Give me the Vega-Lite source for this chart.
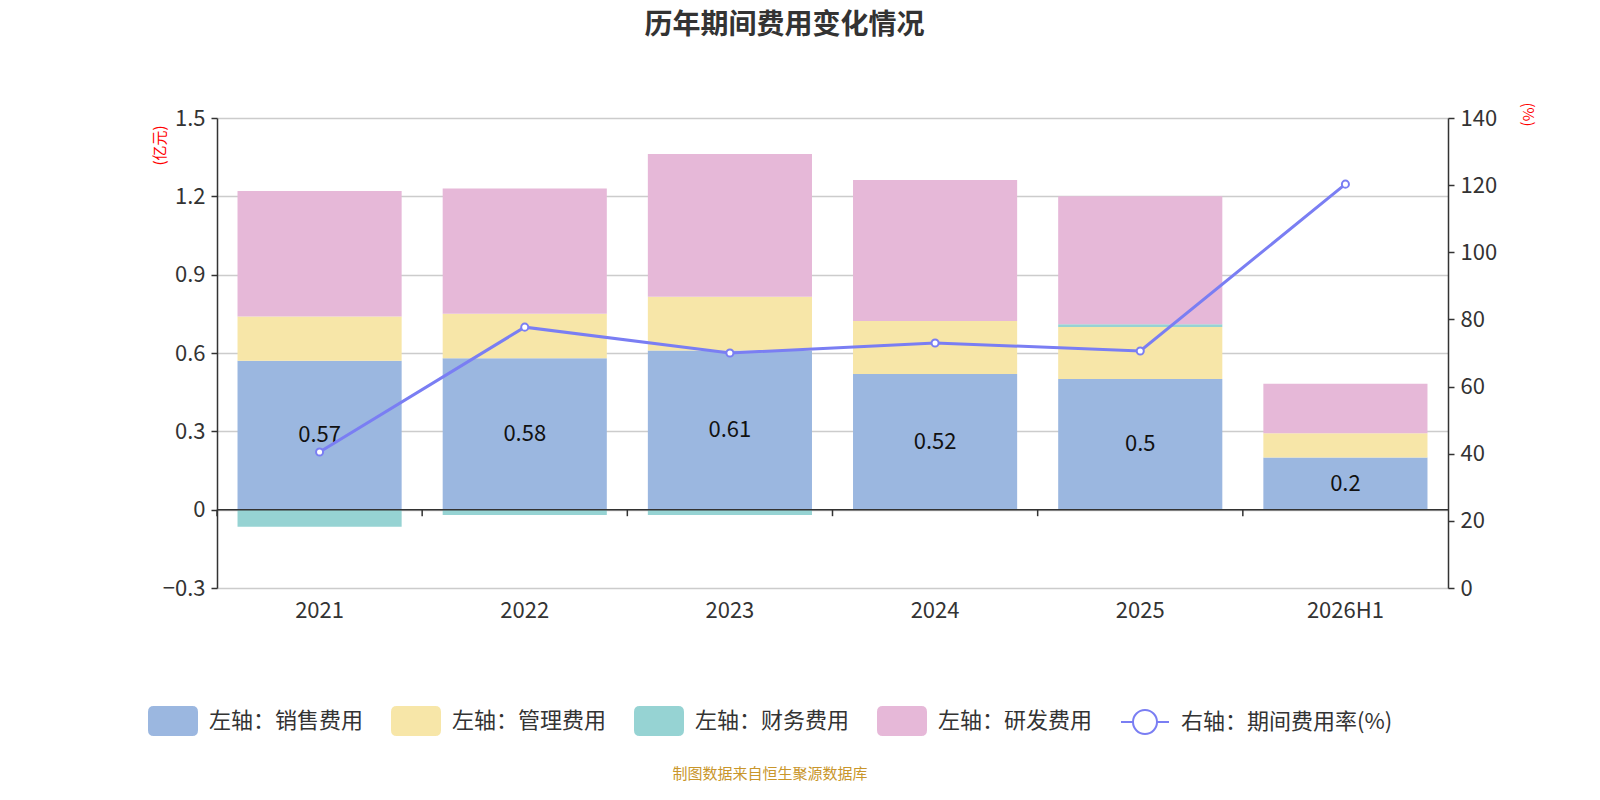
{
  "$schema": "https://vega.github.io/schema/vega-lite/v6.json",
  "width": 1231,
  "height": 470,
  "autosize": {"type": "none"},
  "padding": {"left": 217, "top": 118, "right": 152, "bottom": 212},
  "background": "white",
  "config": {
    "font": "Noto Sans CJK SC",
    "view": {"stroke": null},
    "axisX": {"title": null, "domain": false, "ticks": false, "labelAngle": 0, "labelFontSize": 22, "labelColor": "#333333", "labelPadding": 12, "grid": false}
  },
  "title": {
    "text": "历年期间费用变化情况",
    "fontSize": 28,
    "fontWeight": "bold",
    "color": "#333333",
    "anchor": "middle",
    "offset": 62,
    "dx": -48
  },
  "datasets": {
    "cost": [
      {"year": "2021", "series": "左轴：销售费用", "value": 0.57},
      {"year": "2021", "series": "左轴：管理费用", "value": 0.17},
      {"year": "2021", "series": "左轴：财务费用", "value": -0.065},
      {"year": "2021", "series": "左轴：研发费用", "value": 0.48},
      {"year": "2022", "series": "左轴：销售费用", "value": 0.58},
      {"year": "2022", "series": "左轴：管理费用", "value": 0.17},
      {"year": "2022", "series": "左轴：财务费用", "value": -0.02},
      {"year": "2022", "series": "左轴：研发费用", "value": 0.48},
      {"year": "2023", "series": "左轴：销售费用", "value": 0.61},
      {"year": "2023", "series": "左轴：管理费用", "value": 0.205},
      {"year": "2023", "series": "左轴：财务费用", "value": -0.02},
      {"year": "2023", "series": "左轴：研发费用", "value": 0.547},
      {"year": "2024", "series": "左轴：销售费用", "value": 0.52},
      {"year": "2024", "series": "左轴：管理费用", "value": 0.203},
      {"year": "2024", "series": "左轴：财务费用", "value": 0},
      {"year": "2024", "series": "左轴：研发费用", "value": 0.54},
      {"year": "2025", "series": "左轴：销售费用", "value": 0.5},
      {"year": "2025", "series": "左轴：管理费用", "value": 0.2},
      {"year": "2025", "series": "左轴：财务费用", "value": 0.01},
      {"year": "2025", "series": "左轴：研发费用", "value": 0.49},
      {"year": "2026H1", "series": "左轴：销售费用", "value": 0.2},
      {"year": "2026H1", "series": "左轴：管理费用", "value": 0.093},
      {"year": "2026H1", "series": "左轴：财务费用", "value": 0},
      {"year": "2026H1", "series": "左轴：研发费用", "value": 0.189}
    ],
    "rate": [
      {"year": "2021", "rate": 40.5},
      {"year": "2022", "rate": 77.7},
      {"year": "2023", "rate": 70.0},
      {"year": "2024", "rate": 73.0},
      {"year": "2025", "rate": 70.6},
      {"year": "2026H1", "rate": 120.3}
    ]
  },
  "encoding": {
    "x": {
      "field": "year",
      "type": "nominal",
      "sort": null,
      "title": null,
      "scale": {"paddingInner": 0, "paddingOuter": 0}
    }
  },
  "layer": [
    {
      "data": {"name": "cost"},
      "transform": [
        {"calculate": "indexof(['左轴：销售费用','左轴：管理费用','左轴：财务费用','左轴：研发费用'], datum.series)", "as": "ord"}
      ],
      "mark": {"type": "bar", "width": {"band": 0.8}},
      "encoding": {
        "y": {
          "field": "value",
          "type": "quantitative",
          "stack": "zero",
          "scale": {"domain": [-0.3, 1.5], "nice": false, "zero": false},
          "axis": {
            "orient": "left",
            "values": [-0.3, 0, 0.3, 0.6, 0.9, 1.2, 1.5],
            "format": ".1~f",
            "labelFontSize": 22,
            "labelColor": "#333333",
            "labelPadding": 6,
            "domainColor": "#333333",
            "domainWidth": 1.5,
            "tickColor": "#333333",
            "tickSize": 6,
            "tickWidth": 1.5,
            "grid": true,
            "gridColor": "#cccccc",
            "gridWidth": 1.5,
            "title": "(亿元)",
            "titleColor": "red",
            "titleFontSize": 15,
            "titleFontWeight": "normal",
            "titleAngle": -90,
            "titleX": -58,
            "titleY": 27,
            "titleAlign": "center",
            "titleBaseline": "middle"
          }
        },
        "color": {
          "field": "series",
          "type": "nominal",
          "scale": {
            "domain": ["左轴：销售费用", "左轴：管理费用", "左轴：财务费用", "左轴：研发费用", "右轴：期间费用率(%)"],
            "range": ["#9bb7e0", "#f7e6a8", "#96d3d3", "#e6b8d8", "#7a7ef3"]
          },
          "legend": {
            "orient": "none",
            "legendX": -69,
            "legendY": 578,
            "direction": "horizontal",
            "columns": 5,
            "title": "制图数据来自恒生聚源数据库",
            "titleOrient": "bottom",
            "titleAnchor": "middle",
            "titleColor": "#c9962b",
            "titleFontSize": 15,
            "titleFontWeight": "normal",
            "titlePadding": 28,
            "titleLimit": 1000,
            "labelFontSize": 22,
            "labelColor": "#333333",
            "labelOffset": 11,
            "labelLimit": 400,
            "columnPadding": 24,
            "symbolSize": 2304,
            "symbolType": "M-0.8,-0.58H0.8Q1,-0.58 1,-0.38V0.38Q1,0.58 0.8,0.58H-0.8Q-1,0.58 -1,0.38V-0.38Q-1,-0.58 -0.8,-0.58Z",
            "encode": {
              "symbols": {
                "update": {
                  "shape": [
                    {"test": "datum.value === '右轴：期间费用率(%)'", "value": "M-1,0H-0.5M0.5,0H1M-0.5,0A0.5,0.5 0 1,0 0.5,0A0.5,0.5 0 1,0 -0.5,0Z"},
                    {"value": "M-0.8,-0.58H0.8Q1,-0.58 1,-0.38V0.38Q1,0.58 0.8,0.58H-0.8Q-1,0.58 -1,0.38V-0.38Q-1,-0.58 -0.8,-0.58Z"}
                  ],
                  "fillOpacity": [
                    {"test": "datum.value === '右轴：期间费用率(%)'", "value": 0},
                    {"value": 1}
                  ],
                  "stroke": [
                    {"test": "datum.value === '右轴：期间费用率(%)'", "value": "#7a7ef3"},
                    {"value": "transparent"}
                  ],
                  "strokeWidth": {"value": 2},
                  "opacity": {"value": 1}
                }
              }
            }
          }
        },
        "order": {"field": "ord", "type": "quantitative"}
      }
    },
    {
      "data": {"name": "cost"},
      "transform": [
        {"filter": "datum.series === '左轴：销售费用'"},
        {"calculate": "datum.value / 2", "as": "mid"}
      ],
      "mark": {"type": "text", "fontSize": 22, "color": "#111111", "baseline": "middle"},
      "encoding": {
        "y": {"field": "mid", "type": "quantitative", "scale": {"domain": [-0.3, 1.5], "nice": false, "zero": false}, "axis": null},
        "text": {"field": "value", "type": "quantitative", "format": ".2~f"}
      }
    },
    {
      "data": {"name": "cost"},
      "transform": [{"filter": "datum.series === '左轴：销售费用'"}],
      "mark": {"type": "rule", "color": "#333333", "strokeWidth": 1.5},
      "encoding": {
        "x": {
          "field": "year",
          "type": "nominal",
          "sort": null,
          "title": null,
          "bandPosition": 0,
          "scale": {"paddingInner": 0, "paddingOuter": 0}
        },
        "y": {"datum": 0, "type": "quantitative", "scale": {"domain": [-0.3, 1.5], "nice": false, "zero": false}, "axis": null},
        "y2": {"datum": -0.025}
      }
    },
    {
      "data": {"values": [{}]},
      "mark": {"type": "rule", "color": "#333333", "strokeWidth": 1.5},
      "encoding": {
        "x": {"value": 0},
        "x2": {"value": "width"},
        "y": {"datum": 0, "type": "quantitative", "scale": {"domain": [-0.3, 1.5], "nice": false, "zero": false}, "axis": null}
      }
    },
    {
      "data": {"name": "rate"},
      "mark": {
        "type": "line",
        "strokeWidth": 3,
        "point": {"filled": false, "fill": "white", "strokeWidth": 2, "size": 50}
      },
      "encoding": {
        "y": {
          "field": "rate",
          "type": "quantitative",
          "scale": {"domain": [0, 140], "nice": false},
          "axis": {
            "orient": "right",
            "values": [0, 20, 40, 60, 80, 100, 120, 140],
            "grid": false,
            "labelFontSize": 22,
            "labelColor": "#333333",
            "labelPadding": 6,
            "domainColor": "#333333",
            "domainWidth": 1.5,
            "tickColor": "#333333",
            "tickSize": 6,
            "tickWidth": 1.5,
            "title": "(%)",
            "titleColor": "red",
            "titleFontSize": 15,
            "titleFontWeight": "normal",
            "titleAngle": 90,
            "titleX": 79,
            "titleY": -4,
            "titleAlign": "center",
            "titleBaseline": "middle"
          }
        },
        "color": {"datum": "右轴：期间费用率(%)"}
      }
    }
  ],
  "resolve": {"scale": {"y": "independent"}}
}
